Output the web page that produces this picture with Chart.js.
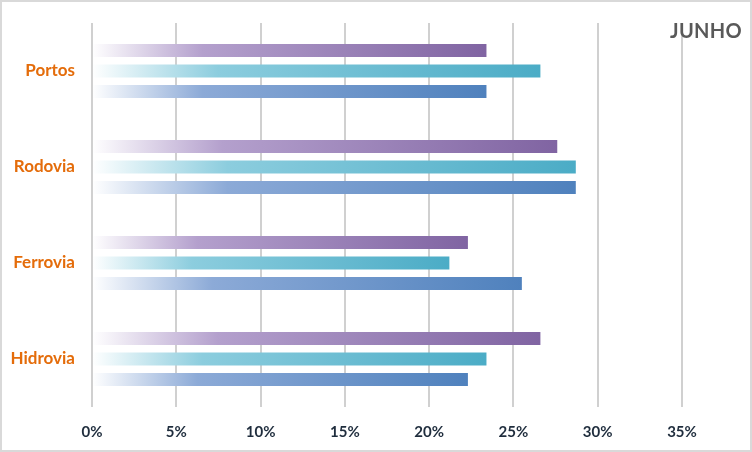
<!DOCTYPE html>
<html>
<head>
<meta charset="utf-8">
<script src="https://cdn.jsdelivr.net/npm/chart.js@4"></script>
<style>
  html, body { margin:0; padding:0; background:#fff; }
  #wrap {
    position:relative;
    width:752px; height:452px;
    box-sizing:border-box;
    border:2px solid #d9d9d9;
    background:#fff;
  }
  #title {
    position:absolute;
    right:8px; top:16px;
    font-family:Lato, "Open Sans", sans-serif;
    font-weight:bold;
    font-size:20px;
    color:#595959;
    letter-spacing:0.3px;
  }
</style>
</head>
<body>
<div id="wrap">
  <canvas id="chart" width="748" height="448"></canvas>
  <div id="title">JUNHO</div>
</div>

<script>
/* -------------------------------------------
   DATA
   ------------------------------------------- */

const categories  = ["Portos", "Rodovia", "Ferrovia", "Hidrovia"];
const seriesA     = [23.4, 27.6, 22.3, 26.6];   // purple
const seriesB     = [26.6, 28.7, 21.2, 23.4];   // teal
const seriesC     = [23.4, 28.7, 25.5, 22.3];   // blue
const tickValues  = [0, 5, 10, 15, 20, 25, 30, 35];

// gradient colours: [light, mid, end]
const purpleStops = ["rgba(255,255,255,1)", "rgba(180,160,205,1)", "rgba(128,100,162,1)"];
const tealStops   = ["rgba(255,255,255,1)", "rgba(140,205,222,1)", "rgba(75,172,198,1)"];
const blueStops   = ["rgba(255,255,255,1)", "rgba(140,170,215,1)", "rgba(79,129,189,1)"];


/* -------------------------------------------
   GRADIENT HELPER
   ------------------------------------------- */

function barGradient(stops){
  return (context)=>{
    const chart = context.chart;
    const area  = chart.chartArea;
    if(!area || context.raw == null) return stops[2];
    const xs = chart.scales.x;
    const x0 = xs.getPixelForValue(0);
    const x1 = xs.getPixelForValue(context.raw);
    if(x1 - x0 < 2) return stops[2];
    const g = chart.ctx.createLinearGradient(x0, 0, x1, 0);
    g.addColorStop(0, stops[0]);
    g.addColorStop(0.28, stops[1]);
    g.addColorStop(1, stops[2]);
    return g;
  };
}


/* -------------------------------------------
   CHART
   ------------------------------------------- */

const font = "Lato, 'Open Sans', sans-serif";

new Chart(document.getElementById("chart"), {
  type: "bar",
  data: {
    labels: categories,
    datasets: [
      { label:"A", data:seriesA, backgroundColor:barGradient(purpleStops) },
      { label:"B", data:seriesB, backgroundColor:barGradient(tealStops) },
      { label:"C", data:seriesC, backgroundColor:barGradient(blueStops) }
    ]
  },
  options: {
    indexAxis: "y",
    responsive: false,
    animation: false,
    layout: { padding: { top:21, right:68, left:0, bottom:0 } },
    datasets: {
      bar: { categoryPercentage:0.64, barPercentage:0.63, borderWidth:0 }
    },
    plugins: {
      legend: { display:false },
      tooltip: { enabled:false }
    },
    scales: {
      x: {
        min: 0,
        max: 35,
        afterBuildTicks: (scale)=>{ scale.ticks = tickValues.map(v=>({ value:v })); },
        afterFit: (scale)=>{ scale.height = 43; },
        grid: { color:"#d0d0d0", lineWidth:2, drawTicks:false },
        border: { display:false },
        ticks: {
          padding: 16,
          color: "#1f2d3d",
          font: { family:font, size:15, weight:"bold" },
          callback: (v)=> v + "%"
        }
      },
      y: {
        afterFit: (scale)=>{
          scale.width = 90;
          scale.paddingTop = 0;
          scale.paddingBottom = 0;
        },
        grid: { display:false, drawTicks:false },
        border: { display:false },
        ticks: {
          padding: 17,
          color: "#e46c0a",
          font: { family:font, size:17, weight:"bold" }
        }
      }
    }
  }
});
</script>
</body>
</html>
